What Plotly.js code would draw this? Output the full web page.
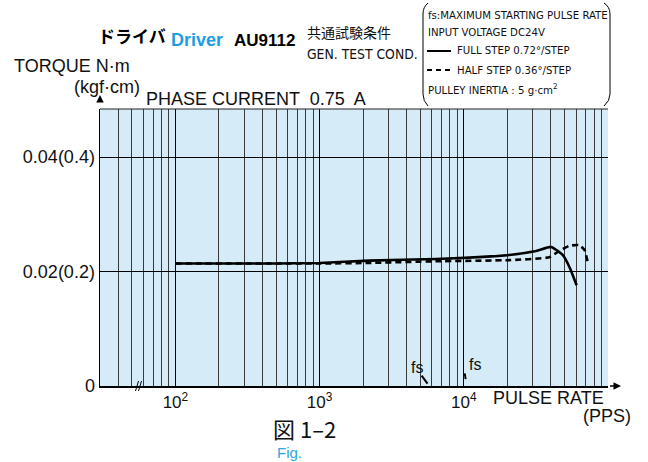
<!DOCTYPE html>
<html>
<head>
<meta charset="utf-8">
<script src="https://cdn.plot.ly/plotly-3.0.1.min.js"></script>
<style>html,body{margin:0;padding:0;background:#fff;}#chart{width:648px;height:462px;}</style>
</head>
<body>
<div id="chart"></div>
<script>
// ---- data ----
const fullStepX = [100, 200, 500, 1000, 2200, 6400, 20700, 31700, 40300, 48500, 54000, 60600];
const fullStepY = [0.0214, 0.0214, 0.0214, 0.0215, 0.0219, 0.0222, 0.0229, 0.0236, 0.0243, 0.0229, 0.0208, 0.0176];
const halfStepX = [100, 1000, 2200, 6400, 20700, 39200, 46000, 54000, 63400, 68600, 72300];
const halfStepY = [0.0214, 0.0214, 0.0215, 0.0218, 0.0220, 0.0225, 0.0236, 0.0245, 0.0246, 0.0238, 0.0217];
const fsFullX = [5100, 5600];
const fsFullY = [0.0018, 0.0004];
const fsHalfX = [10150, 10300];
const fsHalfY = [0.0022, 0.0012];
const xMajorVals = [100, 1000, 10000];
const xMajorText = ['10<sup>2</sup>', '10<sup>3</sup>', '10<sup>4</sup>'];
const xMinorVals = [30,40,50,60,70,80,90,200,300,400,500,600,700,800,900,2000,3000,4000,5000,6000,7000,8000,9000,20000,30000,40000,50000,60000,70000,80000,90000,100000];
const yTickVals = [0, 0.02, 0.04];
const yTickText = ['0', '0.02(0.2)', '0.04(0.4)'];

// ---- layout helpers (pixel -> paper) ----
const L = 100, R = 40, T = 109, B = 76, W = 648, H = 462;
const PW = W - L - R, PH = H - T - B;
const px = x => (x - L) / PW;
const py = y => (H - B - y) / PH;

const SANS = 'Liberation Sans, Arial, Helvetica, sans-serif';
const NARROW = 'DejaVu Sans Condensed, Liberation Sans, sans-serif';
const CJK = 'Noto Sans CJK JP, sans-serif';

function txt(text, x, y, size, opts) {
  opts = opts || {};
  return {
    text: text, xref: 'paper', yref: 'paper', x: px(x), y: py(y),
    xanchor: opts.xanchor || 'left', yanchor: 'middle', showarrow: false,
    font: {family: opts.family || SANS, size: size, color: opts.color || '#111', weight: opts.weight || 'normal'}
  };
}

const traces = [
  {x: fullStepX, y: fullStepY, mode: 'lines', line: {color: '#000', width: 2.6, shape: 'spline', smoothing: 0.5}, showlegend: false, hoverinfo: 'skip'},
  {x: halfStepX, y: halfStepY, mode: 'lines', line: {color: '#000', width: 2.6, dash: '6px,4px', shape: 'spline', smoothing: 0.5}, showlegend: false, hoverinfo: 'skip'},
  {x: fsFullX, y: fsFullY, mode: 'lines', line: {color: '#000', width: 2}, showlegend: false, hoverinfo: 'skip'},
  {x: fsHalfX, y: fsHalfY, mode: 'lines', line: {color: '#000', width: 2}, showlegend: false, hoverinfo: 'skip'}
];

const annotations = [
  txt('ドライバ', 96, 35, 17, {family: CJK, weight: 'bold', color: '#000'}),
  txt('Driver', 169, 40, 18, {weight: 'bold', color: '#1e9ee0'}),
  txt('AU9112', 232, 40, 17, {weight: 'bold', color: '#000'}),
  txt('共通試験条件', 305, 32, 14, {family: CJK}),
  txt('GEN. TEST COND.', 305, 54, 13.8, {family: NARROW}),
  txt('TORQUE N·m', 12, 66, 18),
  txt('(kgf·cm)', 72, 87, 18),
  txt('PHASE CURRENT  0.75  A', 144, 99, 18),
  txt('fs:MAXIMUM STARTING PULSE RATE', 426, 15, 11.3, {family: NARROW}),
  txt('INPUT VOLTAGE DC24V', 426, 32, 11.3, {family: NARROW}),
  txt('FULL STEP 0.72°/STEP', 455, 51, 11.3, {family: NARROW}),
  txt('HALF STEP 0.36°/STEP', 455, 70, 11.3, {family: NARROW}),
  txt('PULLEY INERTIA : 5 g·cm<sup>2</sup>', 426, 89, 11.3, {family: NARROW}),
  txt('PULSE RATE', 491, 398, 18),
  txt('(PPS)', 581, 416, 18),
  txt('図 1–2', 271, 428, 22, {family: CJK}),
  txt('Fig.', 275, 453, 15, {color: '#2aa7e1'}),
  txt('fs', 409, 367, 16),
  txt('fs', 467, 364, 16),
  // axis arrows
  {xref: 'paper', yref: 'paper', x: px(100), y: py(95), ax: 0, ay: 15, text: ' ', showarrow: true, arrowhead: 2, arrowsize: 1, arrowwidth: 1.5, arrowcolor: '#000'},
  {xref: 'paper', yref: 'paper', x: px(621), y: py(386), ax: -14, ay: 0, text: ' ', showarrow: true, arrowhead: 2, arrowsize: 1, arrowwidth: 1.5, arrowcolor: '#000'}
];

const shapes = [
  // top border of plot
  {type: 'line', xref: 'paper', yref: 'paper', x0: 0, x1: 1, y0: 1, y1: 1, line: {color: '#222', width: 1}},
  // legend brackets
  {type: 'path', xref: 'paper', yref: 'paper', path: `M ${px(428)} ${py(3)} Q ${px(423)} ${py(7)} ${px(423)} ${py(14)} L ${px(423)} ${py(94)} Q ${px(423)} ${py(101)} ${px(428)} ${py(106)}`, line: {color: '#000', width: 1}},
  {type: 'path', xref: 'paper', yref: 'paper', path: `M ${px(604)} ${py(3)} Q ${px(610)} ${py(7)} ${px(610)} ${py(14)} L ${px(610)} ${py(94)} Q ${px(610)} ${py(101)} ${px(604)} ${py(106)}`, line: {color: '#000', width: 1}},
  // legend samples
  {type: 'line', xref: 'paper', yref: 'paper', x0: px(427), x1: px(451), y0: py(51), y1: py(51), line: {color: '#000', width: 2}},
  {type: 'line', xref: 'paper', yref: 'paper', x0: px(427), x1: px(452), y0: py(70), y1: py(70), line: {color: '#000', width: 2, dash: '5px,4px'}},
  // axis break mark
  {type: 'line', xref: 'paper', yref: 'paper', x0: px(135.5), x1: px(138.5), y0: py(391), y1: py(381), line: {color: '#000', width: 1}},
  {type: 'line', xref: 'paper', yref: 'paper', x0: px(138.5), x1: px(141.5), y0: py(391), y1: py(381), line: {color: '#000', width: 1}}
];

const layout = {
  width: W, height: H,
  margin: {l: L, r: R, t: T, b: B, pad: 0},
  paper_bgcolor: '#fff',
  plot_bgcolor: '#d5ebf8',
  showlegend: false,
  xaxis: {
    type: 'log', range: [Math.log10(30), 5], fixedrange: true,
    tickvals: xMajorVals, ticktext: xMajorText, ticks: '',
    showgrid: true, gridcolor: '#000', gridwidth: 1,
    minor: {tickvals: xMinorVals, showgrid: true, gridcolor: '#3a3a3a', gridwidth: 1, ticks: ''},
    showline: true, linecolor: '#000', linewidth: 2, zeroline: false,
    tickfont: {family: SANS, size: 17, color: '#111'}
  },
  yaxis: {
    range: [0, 0.0484], fixedrange: true,
    tickvals: yTickVals, ticktext: yTickText, ticks: '',
    showgrid: true, gridcolor: '#000', gridwidth: 1,
    showline: true, linecolor: '#000', linewidth: 1.5, zeroline: false,
    tickfont: {family: SANS, size: 18, color: '#111'}
  },
  annotations: annotations,
  shapes: shapes
};

Plotly.newPlot('chart', traces, layout, {staticPlot: true, displayModeBar: false});
</script>
</body>
</html>
